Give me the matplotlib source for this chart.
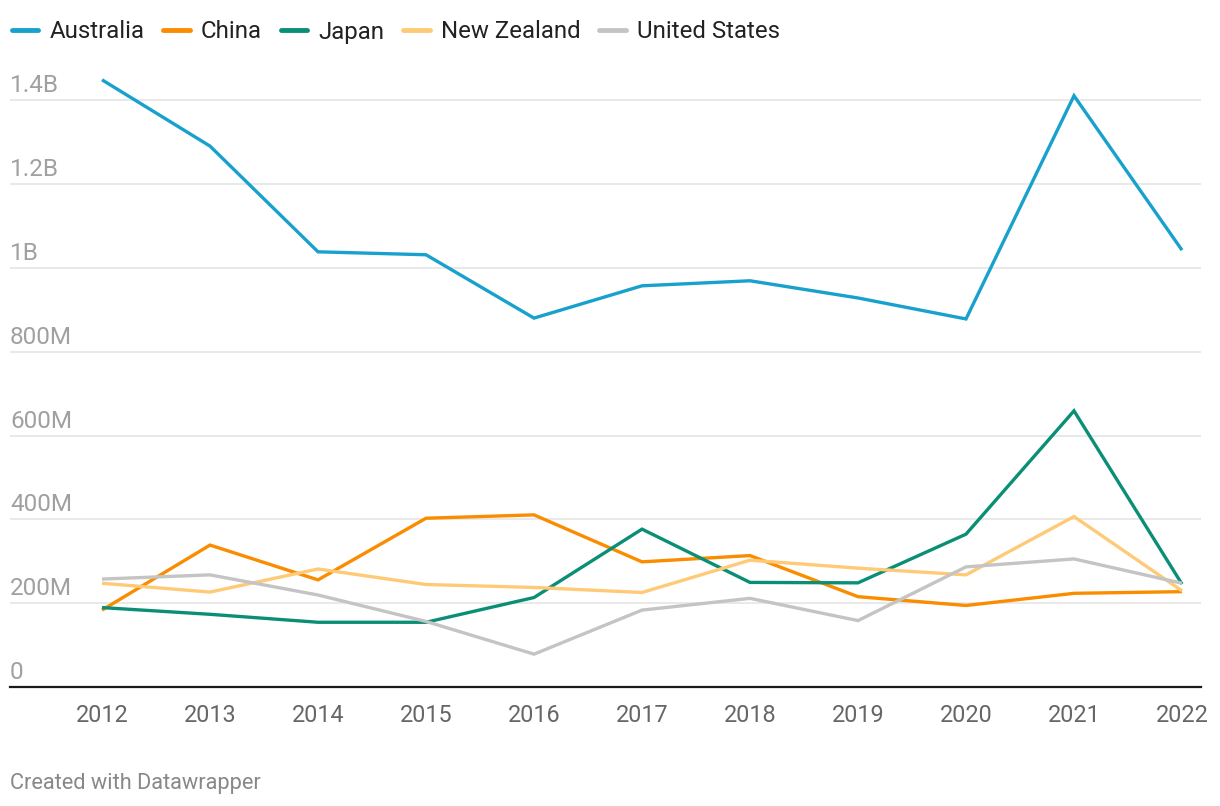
import matplotlib
matplotlib.use("Agg")
import matplotlib.pyplot as plt
from matplotlib.transforms import offset_copy

plt.rcParams['font.family'] = ['Roboto', 'DejaVu Sans']

years = [2012, 2013, 2014, 2015, 2016, 2017, 2018, 2019, 2020, 2021, 2022]
# values in millions
australia = [1448, 1290, 1038, 1031, 880, 957, 969, 928, 878, 1410, 1042]
china = [184, 339, 256, 403, 411, 299, 314, 216, 195, 224, 228]
japan = [190, 174, 155, 155, 214, 377, 250, 249, 365, 659, 246]
new_zealand = [248, 227, 282, 245, 238, 226, 303, 284, 268, 407, 230]
united_states = [258, 268, 220, 157, 79, 184, 212, 159, 287, 306, 248]

series_names = ["Australia", "China", "Japan", "New Zealand", "United States"]
series_values = [australia, china, japan, new_zealand, united_states]
series_colors = ["#18a1cd", "#fa8c00", "#0a8f76", "#ffca76", "#c4c4c4"]

y_ticks = [0, 200, 400, 600, 800, 1000, 1200, 1400]
y_tick_labels = ["0", "200M", "400M", "600M", "800M", "1B", "1.2B", "1.4B"]

W, H = 1220, 806
fig = plt.figure(figsize=(W / 100, H / 100), dpi=100)
left_px, right_px = 10, 1201
bottom_px, top_px = 687.3, 58
ax = fig.add_axes([left_px / W, (H - bottom_px) / H,
                   (right_px - left_px) / W, (bottom_px - top_px) / H])

for name, vals, col in zip(series_names, series_values, series_colors):
    ax.plot(years, vals, color=col, lw=2.4, label=name,
            solid_joinstyle='miter', solid_capstyle='butt', zorder=3)

ax.set_xlim(2011.148, 2022.176)
ax.set_ylim(0, 1500)

ax.set_yticks(y_ticks)
ax.set_yticklabels([])
ax.tick_params(axis='y', length=0)
ax.grid(axis='y', color='#e5e5e5', lw=1.2, zorder=0)
ax.set_axisbelow(True)

ax.set_xticks(years)
ax.set_xticklabels([str(y) for y in years], fontsize=16.8, color='#666666')
ax.tick_params(axis='x', length=0, pad=12)

for s in ['left', 'right', 'top']:
    ax.spines[s].set_visible(False)
ax.spines['bottom'].set_color('#1a1a1a')
ax.spines['bottom'].set_linewidth(1.6)
ax.spines['bottom'].set_zorder(4)

trans = offset_copy(ax.get_yaxis_transform(), fig=fig, x=0, y=8, units='dots')
for v, lab in zip(y_ticks, y_tick_labels):
    ax.text(0, v, lab, transform=trans, ha='left', va='baseline',
            fontsize=17.5, color='#a0a0a0')

leg = fig.legend(loc='center left', bbox_to_anchor=(12 / W, 1 - 32 / H),
                 ncol=5, frameon=False, fontsize=17.3, handlelength=1.1,
                 handletextpad=0.45, columnspacing=0.8, borderaxespad=0,
                 borderpad=0)
for line in leg.get_lines():
    line.set_linewidth(3.5)
    line.set_solid_capstyle('round')
for t in leg.get_texts():
    t.set_color('#222222')

fig.text(10 / W, 1 - 783 / H, "Created with Datawrapper", ha='left', va='center',
         fontsize=15.7, color='#888888')

fig.savefig("out.png", dpi=100, facecolor='white')
